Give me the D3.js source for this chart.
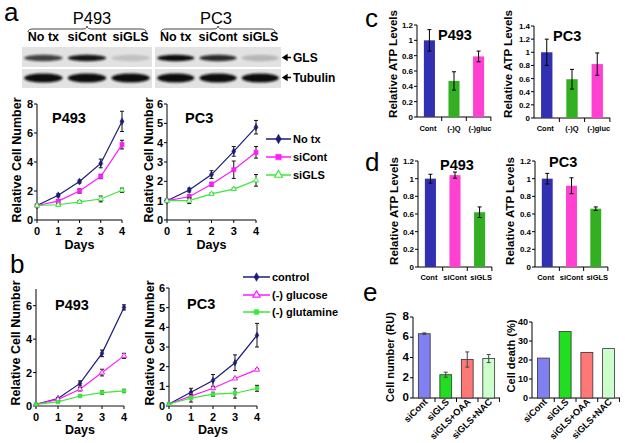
<!DOCTYPE html>
<html><head><meta charset="utf-8">
<script src="https://cdn.jsdelivr.net/npm/d3@7"></script>
<style>body{margin:0;background:#fff}svg{display:block}text{font-family:"Liberation Sans",Arial,sans-serif}</style>
</head><body><svg id="fig" width="625" height="443"></svg>
<script>
// ---------------- DATA ----------------
const blotLanes = ["No tx", "siCont", "siGLS"];
const glsP493 = [0.75, 0.95, 0.15];
const glsPC3 = [1.0, 0.85, 0.2];
const tubP493 = [1, 1, 1];
const tubPC3 = [1, 1, 1];

const days = [0, 1, 2, 3, 4];
// panel a
const aP493NoTx = [1, 1.7, 2.65, 3.9, 6.8], aP493NoTxErr = [0.05, 0.1, 0.1, 0.3, 0.7];
const aP493SiCont = [1, 1.3, 2.0, 3.0, 5.2], aP493SiContErr = [0.05, 0.1, 0.15, 0.15, 0.3];
const aP493SiGLS = [1, 1.05, 1.25, 1.45, 2.05], aP493SiGLSErr = [0.05, 0.08, 0.08, 0.2, 0.15];
const aPC3NoTx = [1, 1.55, 2.35, 3.55, 4.8], aPC3NoTxErr = [0.05, 0.1, 0.2, 0.25, 0.35];
const aPC3SiCont = [1, 1.2, 1.85, 2.6, 3.5], aPC3SiContErr = [0.05, 0.1, 0.1, 0.45, 0.3];
const aPC3SiGLS = [1, 1.0, 1.35, 1.6, 2.05], aPC3SiGLSErr = [0.05, 0.15, 0.05, 0.05, 0.3];
const aLegend = ["No tx", "siCont", "siGLS"];
// panel b
const bP493Control = [0.1, 0.45, 1.35, 3.15, 5.9], bP493ControlErr = [0.05, 0.05, 0.15, 0.2, 0.15];
const bP493Glucose = [0.1, 0.4, 1.0, 2.0, 3.0], bP493GlucoseErr = [0.05, 0.05, 0.1, 0.2, 0.15];
const bP493Glutamine = [0.1, 0.25, 0.6, 0.8, 0.9], bP493GlutamineErr = [0.05, 0.05, 0.05, 0.1, 0.1];
const bPC3Control = [0.1, 0.7, 1.3, 2.2, 3.6], bPC3ControlErr = [0.05, 0.2, 0.3, 0.4, 0.6];
const bPC3Glucose = [0.1, 0.5, 0.9, 1.4, 1.85], bPC3GlucoseErr = [0.05, 0.05, 0.06, 0.05, 0.05];
const bPC3Glutamine = [0.1, 0.4, 0.6, 0.65, 0.9], bPC3GlutamineErr = [0.05, 0.2, 0.1, 0.25, 0.15];
const bLegend = ["control", "(-)  glucose", "(-) glutamine"];
// panel c
const cCats = ["Cont", "(-)Q", "(-)gluc"];
const cP493 = [1.0, 0.47, 0.79], cP493Err = [0.14, 0.12, 0.07];
const cPC3 = [1.0, 0.59, 0.82], cPC3Err = [0.2, 0.15, 0.17];
// panel d
const dCats = ["Cont", "siCont", "siGLS"];
const dP493 = [1.0, 1.04, 0.62], dP493Err = [0.05, 0.035, 0.06];
const dPC3 = [1.0, 0.92, 0.66], dPC3Err = [0.06, 0.09, 0.02];
// panel e
const eCats = ["siCont", "siGLS", "siGLS+OAA", "siGLS+NAC"];
const eCellNumber = [6.35, 2.3, 3.8, 3.9], eCellNumberErr = [0.08, 0.25, 0.75, 0.4];
const eCellDeath = [21, 35, 24, 26];

// ---------------- STYLE ----------------
const NAVY = "#1c1c78", MAG = "#ff1aff", LGREEN = "#3be83b";
const BLUE = "#3030b0", GREEN = "#33b022", PINK = "#ff40d0";
const eColors = ["#8080f0", "#22dd22", "#ff7878", "#ccffcc"];

const svg = d3.select("#fig");
svg.append("rect").attr("width", 625).attr("height", 443).attr("fill", "#fff");
const defs = svg.append("defs");
defs.append("filter").attr("id", "blur").attr("x", "-20%").attr("y", "-50%").attr("width", "140%").attr("height", "200%")
  .append("feGaussianBlur").attr("stdDeviation", 1.3);

function txt(g, s, x, y, o = {}) {
  const t = g.append("text").attr("x", x).attr("y", y).text(s)
    .attr("font-size", o.size || 12).attr("font-weight", o.weight || "bold")
    .attr("text-anchor", o.anchor || "start").attr("fill", o.fill || "#000");
  if (o.rotate) t.attr("transform", `rotate(${o.rotate},${x},${y})`);
  return t;
}

// panel letters
[["a", 4, 21], ["b", 10, 273], ["c", 365, 27], ["d", 365, 171], ["e", 363, 301]].forEach(([s, x, y]) =>
  txt(svg, s, x, y, { size: 26, weight: "normal" }));

// ---------------- BLOT ----------------
function blot(cell, x0, x1, gls, tub, cx) {
  const xs = d3.scaleBand().domain(blotLanes).range([x0, x1]).paddingInner(0.12).paddingOuter(0.05);
  txt(svg, cell, cx, 24, { size: 16.5, weight: "normal", anchor: "middle" });
  const m = (x0 + x1) / 2, a = x0 + 6, b = x1 - 6, y = 29;
  svg.append("path").attr("fill", "none").attr("stroke", "#444").attr("stroke-width", 1)
    .attr("d", `M${a},${y + 3} Q${a},${y} ${a + 5},${y} L${m - 5},${y} Q${m},${y} ${m},${y - 3} Q${m},${y} ${m + 5},${y} L${b - 5},${y} Q${b},${y} ${b},${y + 3}`);
  blotLanes.forEach(l => txt(svg, l, xs(l) + xs.bandwidth() / 2, 41, { size: 12.5, anchor: "middle" }));
  [[47, 67, gls, 3.2, 58], [69, 88, tub, 4.6, 78]].forEach(([t, bt, arr, ry, cy]) => {
    svg.append("rect").attr("x", x0).attr("y", t).attr("width", x1 - x0).attr("height", bt - t).attr("fill", "#e2e2e2");
    blotLanes.forEach((l, i) => {
      svg.append("ellipse").attr("cx", xs(l) + xs.bandwidth() / 2).attr("cy", cy)
        .attr("rx", xs.bandwidth() / 2).attr("ry", ry).attr("fill", "#111")
        .attr("opacity", arr[i]).attr("filter", "url(#blur)");
    });
  });
}
blot("P493", 22, 152, glsP493, tubP493, 92);
blot("PC3", 155, 281, glsPC3, tubPC3, 216);
[["GLS", 62], ["Tubulin", 82]].forEach(([s, y]) => {
  svg.append("path").attr("d", `M283,${y - 4.5} L287,${y - 7} L287,${y - 2} Z M286,${y - 4.5} L291,${y - 4.5}`)
    .attr("stroke", "#000").attr("stroke-width", 1.3).attr("fill", "#000");
  txt(svg, s, 293, y, { size: 12 });
});

// ---------------- LINE CHARTS ----------------
function markerPath(type, size) {
  const t = { diamond: d3.symbolDiamond, square: d3.symbolSquare, triangle: d3.symbolTriangle }[type];
  return d3.symbol(t, size)();
}
function lineChart(o) {
  const g = svg.append("g");
  const x = d3.scaleLinear().domain([0, 4]).range(o.xr);
  const y = d3.scaleLinear().domain([0, o.ymax]).range(o.yr);
  g.append("line").attr("x1", o.xr[0]).attr("x2", o.xr[0]).attr("y1", o.yr[0]).attr("y2", o.yr[1]).attr("stroke", "#000");
  o.yticks.forEach(t => {
    g.append("line").attr("x1", o.xr[0] - 3).attr("x2", o.xr[0]).attr("y1", y(t)).attr("y2", y(t)).attr("stroke", "#000");
    txt(g, t, o.xr[0] - 4, y(t) + 4, { size: 11, anchor: "end" });
  });
  g.append("line").attr("x1", o.xr[0]).attr("x2", o.xr[1]).attr("y1", o.yr[0]).attr("y2", o.yr[0])
    .attr("stroke", o.xaxisColor || "#000").attr("stroke-width", o.xaxisW || 1);
  days.forEach(d => {
    g.append("line").attr("x1", x(d)).attr("x2", x(d)).attr("y1", o.yr[0]).attr("y2", o.yr[0] + 3).attr("stroke", "#000");
    txt(g, d, x(d), o.yr[0] + 14.5, { size: 11, anchor: "middle" });
  });
  txt(g, "Days", (o.xr[0] + o.xr[1]) / 2, o.daysY, { size: 12.5, anchor: "middle" });
  txt(g, "Relative Cell Number", o.ylx, o.yly, { size: 12.5, anchor: "middle", rotate: -90 });
  txt(g, o.title, o.tx, o.ty, { size: 14.5 });
  o.series.forEach(s => {
    g.append("path").attr("fill", "none").attr("stroke", s.color).attr("stroke-width", 1.2)
      .attr("d", d3.line().x((v, i) => x(days[i])).y(v => y(v))(s.vals));
    s.vals.forEach((v, i) => {
      const e = s.errs[i], cx = x(days[i]);
      g.append("path").attr("stroke", "#111").attr("stroke-width", 1).attr("fill", "none")
        .attr("d", `M${cx},${y(v - e)}V${y(v + e)}M${cx - 2},${y(v - e)}H${cx + 2}M${cx - 2},${y(v + e)}H${cx + 2}`);
    });
    s.vals.forEach((v, i) => {
      g.append("path").attr("d", markerPath(s.marker, s.size || 14))
        .attr("transform", `translate(${x(days[i])},${y(v)})`)
        .attr("fill", s.hollow ? "#fff" : s.color).attr("stroke", s.color).attr("stroke-width", s.hollow ? 1 : 0.5);
    });
  });
}
lineChart({ xr: [37, 122], yr: [220, 104], ymax: 8, yticks: [0, 2, 4, 6, 8], title: "P493", tx: 52, ty: 123,
  ylx: 21, yly: 160, daysY: 249,
  series: [
    { vals: aP493NoTx, errs: aP493NoTxErr, color: NAVY, marker: "diamond" },
    { vals: aP493SiCont, errs: aP493SiContErr, color: MAG, marker: "square", size: 18 },
    { vals: aP493SiGLS, errs: aP493SiGLSErr, color: LGREEN, marker: "triangle", hollow: true, size: 12 }] });
lineChart({ xr: [167, 256], yr: [220, 104], ymax: 6, yticks: [0, 1, 2, 3, 4, 5, 6], title: "PC3", tx: 185, ty: 123,
  ylx: 153, yly: 160, daysY: 249,
  series: [
    { vals: aPC3NoTx, errs: aPC3NoTxErr, color: NAVY, marker: "diamond" },
    { vals: aPC3SiCont, errs: aPC3SiContErr, color: MAG, marker: "square", size: 18 },
    { vals: aPC3SiGLS, errs: aPC3SiGLSErr, color: LGREEN, marker: "triangle", hollow: true, size: 12 }] });
lineChart({ xr: [36, 124], yr: [406, 289], ymax: 7, yticks: [0, 2, 4, 6], title: "P493", tx: 55, ty: 310,
  ylx: 20, yly: 343, daysY: 434, xaxisColor: "#888", xaxisW: 2,
  series: [
    { vals: bP493Control, errs: bP493ControlErr, color: NAVY, marker: "diamond", size: 12 },
    { vals: bP493Glucose, errs: bP493GlucoseErr, color: MAG, marker: "triangle", hollow: true, size: 12 },
    { vals: bP493Glutamine, errs: bP493GlutamineErr, color: LGREEN, marker: "square", size: 14 }] });
lineChart({ xr: [169, 257], yr: [406, 288], ymax: 6, yticks: [0, 1, 2, 3, 4, 5, 6], title: "PC3", tx: 187, ty: 309,
  ylx: 154, yly: 343, daysY: 434, xaxisColor: "#888", xaxisW: 2,
  series: [
    { vals: bPC3Control, errs: bPC3ControlErr, color: NAVY, marker: "diamond", size: 12 },
    { vals: bPC3Glucose, errs: bPC3GlucoseErr, color: MAG, marker: "triangle", hollow: true, size: 12 },
    { vals: bPC3Glutamine, errs: bPC3GlutamineErr, color: LGREEN, marker: "square", size: 14 }] });

// legends
function legend(names, styles, x0, x1, tx, ys) {
  names.forEach((n, i) => {
    const s = styles[i], y = ys[i];
    svg.append("line").attr("x1", x0).attr("x2", x1).attr("y1", y).attr("y2", y).attr("stroke", s.color).attr("stroke-width", 1.5);
    svg.append("path").attr("d", markerPath(s.marker, s.size)).attr("transform", `translate(${(x0 + x1) / 2},${y})`)
      .attr("fill", s.hollow ? "#fff" : s.color).attr("stroke", s.color).attr("stroke-width", s.hollow ? 1.2 : 0.5);
    txt(svg, n, tx, y + 4, { size: 11 });
  });
}
legend(aLegend, [{ color: NAVY, marker: "diamond", size: 26 }, { color: MAG, marker: "square", size: 30 },
  { color: LGREEN, marker: "triangle", hollow: true, size: 26 }], 266, 291, 293, [139, 157, 175]);
legend(bLegend, [{ color: NAVY, marker: "diamond", size: 22 }, { color: MAG, marker: "triangle", hollow: true, size: 22 },
  { color: LGREEN, marker: "square", size: 22 }], 243, 270, 272, [277, 295, 312]);

// ---------------- BAR CHARTS ----------------
function barChart(o) {
  const g = svg.append("g");
  const x = d3.scaleBand().domain(o.cats).range(o.xr).paddingInner(o.pad || 0.55).paddingOuter(o.padOut || 0.28);
  const y = d3.scaleLinear().domain([0, o.ymax]).range(o.yr);
  g.append("line").attr("x1", o.xr[0]).attr("x2", o.xr[0]).attr("y1", o.yr[0]).attr("y2", o.yr[1]).attr("stroke", "#000");
  o.ticks.forEach(t => {
    g.append("line").attr("x1", o.xr[0] - 3).attr("x2", o.xr[0]).attr("y1", y(t)).attr("y2", y(t)).attr("stroke", "#000");
    txt(g, o.fmt(t), o.xr[0] - 4, y(t) + 3, { size: o.tickSize || 8, anchor: "end" });
  });
  g.append("line").attr("x1", o.xr[0]).attr("x2", o.xr[1]).attr("y1", o.yr[0]).attr("y2", o.yr[0]).attr("stroke", "#000");
  const step = x.step();
  o.cats.forEach((c) => {
    const bx = x(c) - (step - x.bandwidth()) / 2 + step;
    g.append("line").attr("x1", bx).attr("x2", bx).attr("y1", o.yr[0]).attr("y2", o.yr[0] + 4).attr("stroke", "#000");
  });
  o.vals.forEach((v, i) => {
    const c = o.cats[i];
    g.append("rect").attr("x", x(c)).attr("width", x.bandwidth()).attr("y", y(v)).attr("height", y(0) - y(v))
      .attr("fill", o.colors[i]).attr("stroke", o.stroke || "none").attr("stroke-width", 0.8);
    if (o.errs) {
      const e = o.errs[i], cx = x(c) + x.bandwidth() / 2;
      g.append("path").attr("stroke", o.errColor || "#000").attr("stroke-width", 1).attr("fill", "none")
        .attr("d", `M${cx},${y(v - e)}V${y(v + e)}M${cx - 2},${y(v - e)}H${cx + 2}M${cx - 2},${y(v + e)}H${cx + 2}`);
    }
    const cx = x(c) + x.bandwidth() / 2;
    if (o.rotLabels) txt(g, c, cx + 4, o.yr[0] + 4.5, { size: 9.3, anchor: "end", rotate: -45 });
    else txt(g, c, cx + (i - 1) * 1.5, o.catY, { size: 7.5, anchor: "middle" });
  });
  if (o.title) txt(g, o.title, o.tx, o.ty, { size: 14.5 });
  txt(g, o.ylabel, o.ylx, o.yly, { size: o.ylSize || 11.5, anchor: "middle", rotate: -90 });
}
const fmt1 = d => String(+d.toFixed(1));
const t12 = [0, 0.2, 0.4, 0.6, 0.8, 1, 1.2], t14 = [0, 0.2, 0.4, 0.6, 0.8, 1, 1.2, 1.4];
barChart({ cats: cCats, vals: cP493, errs: cP493Err, colors: [BLUE, GREEN, PINK], xr: [417, 491], yr: [117, 25], ymax: 1.2,
  ticks: t12, fmt: fmt1, catY: 131, title: "P493", tx: 438, ty: 40, ylabel: "Relative ATP Levels", ylx: 397, yly: 64 });
barChart({ cats: cCats, vals: cPC3, errs: cPC3Err, colors: [BLUE, GREEN, PINK], xr: [534, 610], yr: [118, 26], ymax: 1.4,
  ticks: t14, fmt: fmt1, catY: 131, title: "PC3", tx: 553, ty: 41, ylabel: "Relative ATP Levels", ylx: 512, yly: 64 });
barChart({ cats: dCats, vals: dP493, errs: dP493Err, colors: [BLUE, PINK, GREEN], xr: [418, 492], yr: [267, 161], ymax: 1.2,
  ticks: t12, fmt: fmt1, catY: 280, title: "P493", tx: 440, ty: 170, ylabel: "Relative ATP Levels", ylx: 398, yly: 211 });
barChart({ cats: dCats, vals: dPC3, errs: dPC3Err, colors: [BLUE, PINK, GREEN], xr: [535, 608], yr: [267, 161], ymax: 1.2,
  ticks: t12, fmt: fmt1, catY: 280, title: "PC3", tx: 549, ty: 167, ylabel: "Relative ATP Levels", ylx: 514, yly: 211 });
barChart({ cats: eCats, vals: eCellNumber, errs: eCellNumberErr, colors: eColors, stroke: "#333", errColor: "#444",
  xr: [413, 500], yr: [398, 317], ymax: 8, ticks: [0, 2, 4, 6, 8], fmt: d => d, tickSize: 11.5, rotLabels: true,
  pad: 0.45, padOut: 0.25, ylabel: "Cell number (RU)", ylx: 394, yly: 357, ylSize: 11 });
barChart({ cats: eCats, vals: eCellDeath, colors: eColors, stroke: "#333",
  xr: [532, 620], yr: [398, 322], ymax: 40, ticks: [0, 10, 20, 30, 40], fmt: d => d, tickSize: 9, rotLabels: true,
  pad: 0.45, padOut: 0.25, ylabel: "Cell death (%)", ylx: 515, yly: 356, ylSize: 11 });
</script></body></html>
